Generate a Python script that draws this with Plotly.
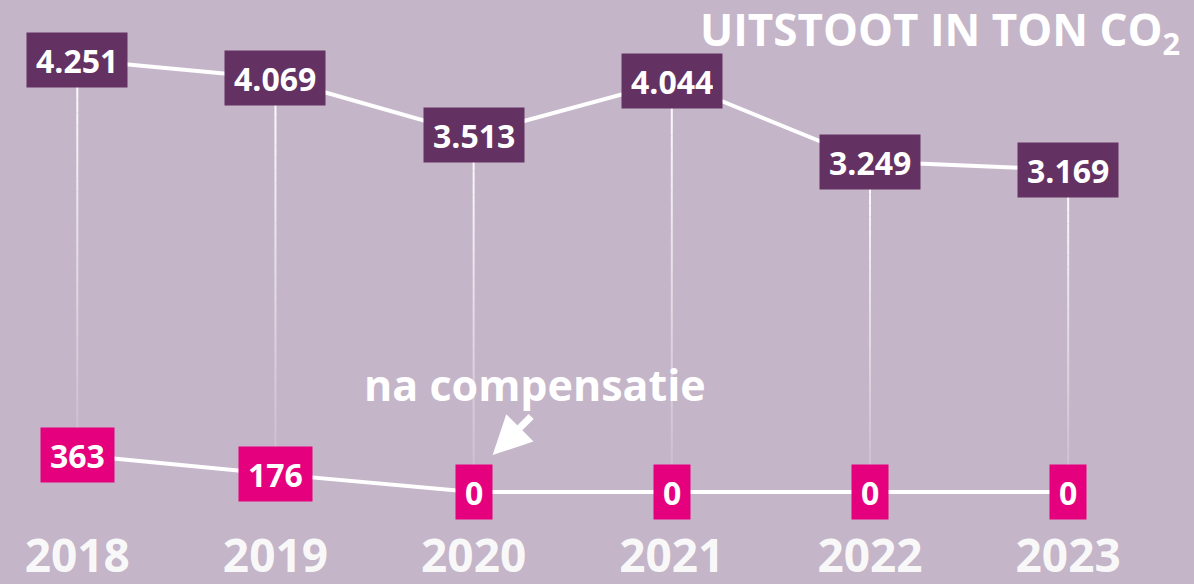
import plotly.graph_objects as go

# data
years = [2018, 2019, 2020, 2021, 2022, 2023]
year_labels = ["2018", "2019", "2020", "2021", "2022", "2023"]
uitstoot = [4251, 4069, 3513, 4044, 3249, 3169]
na_compensatie = [363, 176, 0, 0, 0, 0]

BG = "#c5b5c9"
PURPLE = "#643262"
MAGENTA = "#e5007d"
FONT = "Open Sans"


def nl(v):
    return f"{v:,}".replace(",", ".")


fig = go.Figure()

# fading drop lines from top series to bottom series
shapes = []
n_seg = 30
for x, top, bottom in zip(years, uitstoot, na_compensatie):
    for k in range(n_seg):
        y0 = top - (top - bottom) * k / n_seg
        y1 = top - (top - bottom) * (k + 1) / n_seg
        op = 0.9 * (1 - k / n_seg) + 0.08
        shapes.append(dict(type="line", x0=x, x1=x, y0=y0, y1=y1,
                           line=dict(color="white", width=2), opacity=op,
                           layer="below"))

fig.add_trace(go.Scatter(x=years, y=uitstoot, mode="lines",
                         line=dict(color="white", width=4), hoverinfo="skip"))
fig.add_trace(go.Scatter(x=years, y=na_compensatie, mode="lines",
                         line=dict(color="white", width=4), hoverinfo="skip"))

annotations = []
for series, color in [(uitstoot, PURPLE), (na_compensatie, MAGENTA)]:
    for x, v in zip(years, series):
        annotations.append(dict(
            x=x, y=v, text=f"<b>{nl(v)}</b>", showarrow=False,
            bgcolor=color, borderpad=9, height=36,
            font=dict(family=FONT, size=32, color="white"),
        ))

# title
annotations.append(dict(
    x=0.99, y=1.0, xref="paper", yref="paper", xanchor="right", yanchor="top",
    text="<b>UITSTOOT IN TON CO<sub>2</sub></b>", showarrow=False,
    font=dict(family=FONT, size=44, color="white"), yshift=3,
))

# callout
annotations.append(dict(
    x=2020.31, y=1060, text="<b>na compensatie</b>", showarrow=False,
    font=dict(family=FONT, size=43, color="white"),
))
annotations.append(dict(
    x=2020.096, y=364, ax=40, ay=-40, text="", showarrow=True,
    arrowhead=2, arrowsize=1.1, arrowwidth=7, arrowcolor="white",
))

fig.update_layout(
    width=1194, height=584,
    margin=dict(l=0, r=0, t=0, b=64),
    paper_bgcolor=BG, plot_bgcolor=BG,
    showlegend=False,
    shapes=shapes,
    annotations=annotations,
    xaxis=dict(range=[2017.61, 2023.635], tickvals=years,
               ticktext=[f"<b>{t}</b>" for t in year_labels],
               showgrid=False, zeroline=False, showline=False, ticks="",
               ticklabelstandoff=5, automargin=False,
               tickfont=dict(family=FONT, size=46, weight="bold",
                             color="rgba(255,255,255,0.92)"),
               fixedrange=True),
    yaxis=dict(range=[-275, 4838], visible=False, showgrid=False,
               zeroline=False, fixedrange=True),
)

fig.write_html("out.html", config={"displayModeBar": False},
               post_script="document.body.style.margin='0';")
